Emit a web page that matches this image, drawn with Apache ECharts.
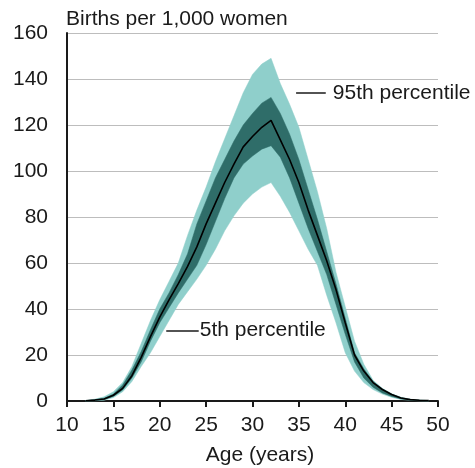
<!DOCTYPE html>
<html>
<head>
<meta charset="utf-8">
<script src="https://cdn.jsdelivr.net/npm/echarts@6/dist/echarts.min.js"></script>
<style>
  html, body { margin: 0; padding: 0; background: #ffffff; }
  #chart { width: 475px; height: 468px; }
</style>
</head>
<body>
<div id="chart"></div>
<script>
// Age-specific birth rates (births per 1,000 women), single years of age
const ages = [12, 13, 14, 15, 16, 17, 18, 19, 20, 21, 22, 23, 24, 25, 26, 27, 28, 29, 30,
  31, 32, 33, 34, 35, 36, 37, 38, 39, 40, 41, 42, 43, 44, 45, 46, 47, 48, 49];

const p5 = [0, 0.1, 0.3, 1.5, 4, 8.5, 15, 21, 28, 35, 42, 47.5, 53, 59, 66, 74, 80.5, 86, 90,
  93, 95, 89, 82, 74, 66, 59, 46, 34, 21, 13, 8, 5, 3, 1.6, 0.7, 0.3, 0.1, 0];

const p25 = [0, 0.2, 0.6, 2, 4.8, 10, 17, 26, 34, 40.5, 47, 53, 59, 68, 78, 88, 97, 103, 106.5,
  109.5, 111, 106, 97, 86, 75, 65, 55, 42, 29, 17, 10, 6, 3.5, 2, 0.9, 0.4, 0.2, 0.1];

const median = [0.1, 0.4, 0.9, 2.5, 5.5, 11, 19, 28, 36.5, 44, 51, 58.5, 67, 77, 86, 95, 103, 110.5, 115,
  119, 122, 113.5, 105, 95, 83, 72, 61, 48.5, 34, 20, 13, 8, 5, 2.8, 1.3, 0.6, 0.3, 0.2];

const p75 = [0.1, 0.6, 1.2, 3, 7, 13.5, 21.5, 31, 40, 47, 55, 64, 77, 87, 97, 105, 113, 120, 125,
  129.5, 132, 125, 116, 105, 92, 79, 65, 51, 36, 21, 14, 8.5, 5.2, 3, 1.5, 0.7, 0.35, 0.2];

const p95 = [0.2, 0.8, 1.8, 4, 8, 15, 25, 35, 44, 52, 60, 72, 83, 93, 104, 114, 124, 134, 142,
  146.5, 149, 138, 129, 119, 105, 91, 75, 56, 41, 26, 16, 9, 5.5, 3.2, 1.6, 0.8, 0.4, 0.2];

const xTicks = { min: 10, max: 50, step: 5 };
const yTicks = { min: 0, max: 160, step: 20 };

const LIGHT = '#8fcfcb';
const DARK = '#2f6d69';
const INK = '#1a1a1a';
const FONT = '"Liberation Sans", Arial, sans-serif';

const pairs = (vals) => ages.map((a, i) => [a, vals[i]]);

// A filled band between two percentile curves, drawn as one polygon
// through the grid's own coordinate system.
function band(lo, hi, color) {
  return {
    type: 'custom',
    silent: true,
    data: ages.map((a, i) => [a, lo[i], hi[i]]),
    encode: { x: 0, y: [1, 2] },
    renderItem: function (params, api) {
      if (params.dataIndex !== 0) return null;
      const pts = [];
      for (let i = 0; i < ages.length; i++) pts.push(api.coord([ages[i], hi[i]]));
      for (let i = ages.length - 1; i >= 0; i--) pts.push(api.coord([ages[i], lo[i]]));
      return {
        type: 'polygon',
        shape: { points: pts },
        style: { fill: color, stroke: color, lineWidth: 0.5 }
      };
    }
  };
}

const chart = echarts.init(document.getElementById('chart'), null, { renderer: 'canvas' });

chart.setOption({
  animation: false,
  backgroundColor: '#ffffff',
  grid: { left: 67, right: 37, top: 33, bottom: 67 },
  xAxis: {
    type: 'value',
    min: xTicks.min, max: xTicks.max, interval: xTicks.step,
    axisLine: { show: true, onZero: false, lineStyle: { color: INK, width: 2 } },
    axisTick: { show: true, length: 6, lineStyle: { color: INK, width: 2 } },
    axisLabel: { color: INK, fontSize: 21, fontFamily: FONT, margin: 14 },
    splitLine: { show: false }
  },
  yAxis: {
    type: 'value',
    min: yTicks.min, max: yTicks.max, interval: yTicks.step,
    axisLine: { show: true, lineStyle: { color: INK, width: 2 } },
    axisTick: { show: false },
    axisLabel: { color: INK, fontSize: 21, fontFamily: FONT, margin: 19 },
    splitLine: { show: true, lineStyle: { color: '#bdbdbd', width: 1 } }
  },
  graphic: [
    {
      type: 'text', x: 66, y: 19,
      style: { text: 'Births per 1,000 women', font: '21px ' + FONT, fill: INK,
        align: 'left', verticalAlign: 'middle', textAlign: 'left', textVerticalAlign: 'middle' }
    },
    {
      type: 'text', x: 260, y: 455,
      style: { text: 'Age (years)', font: '21px ' + FONT, fill: INK,
        align: 'center', verticalAlign: 'middle', textAlign: 'center', textVerticalAlign: 'middle' }
    }
  ],
  series: [
    band(p5, p95, LIGHT),   // 5th–95th percentile
    band(p25, p75, DARK),   // 25th–75th percentile
    {
      type: 'line', data: pairs(median), symbol: 'none', silent: true,
      lineStyle: { color: '#000000', width: 1.6 },
      markLine: {
        silent: true, symbol: ['none', 'none'], animation: false,
        lineStyle: { color: INK, width: 1.5, type: 'solid' },
        label: { show: true, position: 'end', color: INK, fontSize: 21, fontFamily: FONT },
        data: [
          [ { coord: [34.7, 134], label: { formatter: '95th percentile', distance: 7 } },
            { coord: [37.9, 134] } ],
          [ { coord: [20.7, 30.6], label: { formatter: '5th percentile', distance: 1 } },
            { coord: [24.2, 30.6] } ]
        ]
      }
    }
  ]
});
</script>
</body>
</html>
